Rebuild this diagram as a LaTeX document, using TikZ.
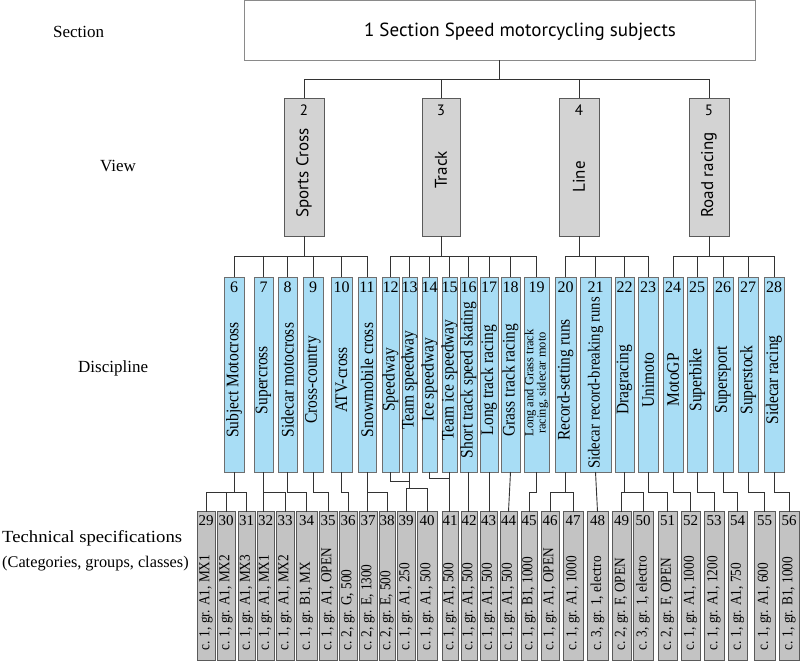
\documentclass[tikz,border=0pt]{standalone}
\usepackage{fontspec}
\setmainfont{Liberation Serif}
\newfontfamily\sansf{PT Sans}
\definecolor{discfill}{HTML}{A8DDF5}
\definecolor{discline}{HTML}{6E6E6E}
\definecolor{viewfill}{HTML}{D3D3D3}
\definecolor{techfill}{HTML}{C3C3C3}
\definecolor{boxline}{HTML}{5A5A5A}
\definecolor{conncol}{HTML}{333333}
\definecolor{topline}{HTML}{8A8A8A}
\tikzset{
  topbox/.style={draw=topline,fill=white,line width=1pt,inner sep=0pt,outer sep=0pt},
  viewbox/.style={draw=boxline,fill=viewfill,line width=1pt,inner sep=0pt,outer sep=0pt,minimum height=138pt},
  discbox/.style={draw=discline,fill=discfill,line width=1pt,inner sep=0pt,outer sep=0pt,minimum height=195pt},
  techbox/.style={draw=boxline,fill=techfill,line width=1pt,inner sep=0pt,outer sep=0pt,minimum height=148.5pt},
  conn/.style={draw=conncol,line width=0.9pt},
  viewnum/.style={inner sep=0pt,font={\sansf\fontsize{15}{17}\selectfont}},
  viewtext/.style={inner sep=0pt,rotate=90,font={\sansf\fontsize{17}{19}\selectfont}},
  discnum/.style={inner sep=0pt,font={\fontsize{16}{18}\selectfont}},
  disctext/.style={inner sep=0pt,rotate=90,font={\fontsize{15.5}{18}\selectfont}},
  technum/.style={inner sep=0pt,font={\fontsize{15}{17}\selectfont}},
  techtext/.style={inner sep=0pt,rotate=90,anchor=west,font={\fontsize{13.3}{15}\selectfont}},
  lefttext/.style={inner sep=0pt,anchor=west,font={\fontsize{17}{19}\selectfont}},
}
\newcommand\tall[1]{\scalebox{1}[1.14]{#1}}
\newcommand\ViewBox[5]{% num x1 x2 label ytext
  \node[viewbox,minimum width={(#3-#2)*1pt}] (v#1) at ({(#2+#3)/2},167) {};
  \node[viewnum] at ({(#2+#3)/2},110) {#1};
  \node[viewtext] at ({(#2+#3)/2},#5) {#4};
}
\newcommand\Disc[4]{% num x1 x2 label
  \node[discbox,minimum width={(#3-#2)*1pt}] (d#1) at ({(#2+#3)/2},374.5) {};
  \node[discnum] at ({(#2+#3)/2},287.5) {#1};
  \node[disctext] at ({(#2+#3)/2},380) {\tall{#4}};
}
\newcommand\Tech[4]{% num x1 x2 label
  \node[techbox,minimum width={(#3-#2)*1pt}] (t#1) at ({(#2+#3)/2},585.75) {};
  \node[technum] at ({(#2+#3)/2},520.5) {#1};
  \node[techtext] at ({(#2+#3)/2},651) {\tall{#4}};
}
\begin{document}
\begin{tikzpicture}[x=1pt,y=-1pt]
\useasboundingbox (0,0) rectangle (800,661);
% top
\node[topbox,minimum width=511pt,minimum height=60pt] (top) at (499.5,30.5) {};
\node[inner sep=0pt,font={\sansf\fontsize{19}{21}\selectfont}] (toptext) at (520,32) {1 Section Speed motorcycling subjects};
% left labels
\node[lefttext] (lsec) at (53,32) {Section};
\node[lefttext] (lview) at (100,166) {View};
\node[lefttext] (ldisc) at (78,368) {Discipline};
\node[lefttext] (ltech) at (2,538) {\scalebox{1.1}[1]{Technical specifications}};
\node[lefttext,font={\fontsize{16.3}{19}\selectfont}] (lcat) at (2,564) {(Categories, groups, classes)};
% view boxes
\ViewBox{2}{284}{324}{Sports Cross}{173}
\ViewBox{3}{422}{460}{Track}{170}
\ViewBox{4}{559}{599}{Line}{177}
\ViewBox{5}{689}{729}{Road racing}{175}
% discipline boxes
\Disc{6}{224}{244}{Subject Motocross}
\Disc{7}{254}{273}{Supercross}
\Disc{8}{278}{297}{Sidecar motocross}
\Disc{9}{303}{323}{Cross-country}
\Disc{10}{331}{352}{ATV-cross}
\Disc{11}{358}{376}{Snowmobile cross}
\Disc{12}{382}{399}{Speedway}
\Disc{13}{402}{417}{Team speedway}
\Disc{14}{422}{437}{Ice speedway}
\Disc{15}{442}{457}{Team ice speedway}
\Disc{16}{460}{477}{Short track speed skating}
\Disc{17}{480}{498}{Long track racing}
\Disc{18}{501}{520}{Grass track racing}
\node[discbox,minimum width=25pt] (d19) at (536.5,374.5) {};
\node[discnum] at (536.5,287.5) {19};
\node[disctext,align=center,font={\fontsize{12.5}{11}\selectfont}] at (536.5,383) {Long and Grass track\\racing, sidecar moto};
\Disc{20}{555}{576}{Record-setting runs}
\node[discbox,minimum width=31pt] (d21) at (595.5,374.5) {};
\node[discnum] at (595.5,287.5) {21};
\node[disctext,font={\fontsize{14.8}{18}\selectfont}] at (595.5,383) {\tall{Sidecar record-breaking runs}};
\Disc{22}{615}{634}{Dragracing}
\Disc{23}{638}{658}{Unimoto}
\Disc{24}{663}{683}{MotoGP}
\Disc{25}{687}{707}{Superbike}
\Disc{26}{713}{733}{Supersport}
\Disc{27}{738}{758}{Superstock}
\Disc{28}{764}{784}{Sidecar racing}
% technical boxes
\Tech{29}{197}{215}{c. 1, gr. A1, MX1}
\Tech{30}{217}{235}{c. 1, gr. A1, MX2}
\Tech{31}{238}{255}{c. 1, gr. A1, MX3}
\Tech{32}{257}{274}{c. 1, gr. A1, MX1}
\Tech{33}{276}{294}{c. 1, gr. A1, MX2}
\Tech{34}{296}{317}{c. 1, gr. B1, MX}
\Tech{35}{319}{337}{c. 1, gr. A1, OPEN}
\Tech{36}{339}{357}{c. 2, gr. G, 500}
\Tech{37}{359}{377}{c. 2, gr. E, 1300}
\Tech{38}{379}{395}{c. 2, gr. E, 500}
\Tech{39}{397}{415}{c. 1, gr. A1, 250}
\Tech{40}{417}{437}{c. 1, gr. A1, 500}
\Tech{41}{442}{458}{c. 1, gr. A1, 500}
\Tech{42}{461}{477}{c. 1, gr. A1, 500}
\Tech{43}{480}{497}{c. 1, gr. A1, 500}
\Tech{44}{500}{517}{c. 1, gr. A1, 500}
\Tech{45}{521}{537}{c. 1, gr. B1, 1000}
\Tech{46}{541}{559}{c. 1, gr. A1, OPEN}
\Tech{47}{563}{583}{c. 1, gr. A1, 1000}
\Tech{48}{587}{608}{c. 3, gr. 1, electro}
\Tech{49}{612}{631}{c. 2, gr. F, OPEN}
\Tech{50}{633}{653}{c. 3, gr. 1, electro}
\Tech{51}{658}{677}{c. 2, gr. F, OPEN}
\Tech{52}{681}{700}{c. 1, gr. A1, 1000}
\Tech{53}{704}{724}{c. 1, gr. A1, 1200}
\Tech{54}{728}{747}{c. 1, gr. A1, 750}
\Tech{55}{754}{775}{c. 1, gr. A1, 600}
\Tech{56}{779}{799}{c. 1, gr. B1, 1000}
% bus levels
\coordinate (bA) at (0,79);
\coordinate (bB) at (0,256);
\coordinate (bC) at (0,492);
\coordinate (bD) at (0,481);
\coordinate (bE) at (0,488);
\coordinate (bF) at (0,478);
% top -> views
\draw[conn] (top.south) -- (top.south |- bA);
\draw[conn] (v2.north) -- (v2.north |- bA) -- (v5.north |- bA) -- (v5.north);
\draw[conn] (v3.north) -- (v3.north |- bA);
\draw[conn] (v4.north) -- (v4.north |- bA);
% views -> disciplines
\draw[conn] (v2.south) -- (v2.south |- bB);
\draw[conn] (d6.north) -- (d6.north |- bB) -- (d11.north |- bB) -- (d11.north);
\foreach \n in {7,8,9,10} \draw[conn] (d\n.north) -- (d\n.north |- bB);
\draw[conn] (v3.south) -- (v3.south |- bB);
\draw[conn] (d12.north) -- (d12.north |- bB) -- (d19.north |- bB) -- (d19.north);
\foreach \n in {13,14,15,16,17,18} \draw[conn] (d\n.north) -- (d\n.north |- bB);
\draw[conn] (v4.south) -- (v4.south |- bB);
\draw[conn] (d20.north) -- (d20.north |- bB) -- (d23.north |- bB) -- (d23.north);
\foreach \n in {21,22} \draw[conn] (d\n.north) -- (d\n.north |- bB);
\draw[conn] (v5.south) -- (v5.south |- bB);
\draw[conn] (d24.north) -- (d24.north |- bB) -- (d28.north |- bB) -- (d28.north);
\foreach \n in {25,26,27} \draw[conn] (d\n.north) -- (d\n.north |- bB);
% disciplines -> technical
\draw[conn] (d6.south) -- (d6.south |- bC);
\draw[conn] (t29.north) -- (t29.north |- bC) -- (t31.north |- bC) -- (t31.north);
\draw[conn] (t30.north) -- (t30.north |- bC);
\draw[conn] (d7.south) -- (d7.south |- t32.north);
\draw[conn] (d7.south |- bC) -- (t33.north |- bC) -- (t33.north);
\draw[conn] (d8.south) -- (d8.south |- bC) -- (t34.north |- bC) -- (t34.north);
\draw[conn] (d9.south) -- (d9.south |- bC) -- (t35.north |- bC) -- (t35.north);
\draw[conn] (d10.south) -- (d10.south |- bC) -- (t36.north |- bC) -- (t36.north);
\draw[conn] (d11.south) -- (d11.south |- t37.north);
\draw[conn] (d11.south |- bC) -- (t38.north |- bC) -- (t38.north);
\draw[conn] (d12.south) -- (d12.south |- bD) -- (d13.south |- bD);
\draw[conn] (d13.south) -- (d13.south |- bE);
\draw[conn] (t39.north) -- (t39.north |- bE) -- (t40.north |- bE) -- (t40.north);
\draw[conn] (d14.south) -- (d14.south |- bF) -- (d15.south |- bF);
\draw[conn] (d15.south) -- (d15.south |- t41.north);
\draw[conn] (d16.south) -- (d16.south |- t42.north);
\draw[conn] (d17.south) -- (d17.south |- t43.north);
\draw[conn] (d18.south) -- (t44.north);
\draw[conn] (d19.south) -- (d19.south |- bC) -- (t45.north |- bC) -- (t45.north);
\draw[conn] (d20.south) -- (d20.south |- bC);
\draw[conn] (t46.north) -- (t46.north |- bC) -- (t47.north |- bC) -- (t47.north);
\draw[conn] (d21.south) -- (t48.north);
\draw[conn] (d22.south) -- (d22.south |- bC);
\draw[conn] (t49.north) -- (t49.north |- bC) -- (t50.north |- bC) -- (t50.north);
\draw[conn] (d23.south) -- (d23.south |- bC) -- (t51.north |- bC) -- (t51.north);
\draw[conn] (d24.south) -- (d24.south |- bC) -- (t52.north |- bC) -- (t52.north);
\draw[conn] (d25.south) -- (d25.south |- bC) -- (t53.north |- bC) -- (t53.north);
\draw[conn] (d26.south) -- (d26.south |- bC) -- (t54.north |- bC) -- (t54.north);
\draw[conn] (d27.south) -- (d27.south |- bC) -- (t55.north |- bC) -- (t55.north);
\draw[conn] (d28.south) -- (d28.south |- bC) -- (t56.north |- bC) -- (t56.north);
\end{tikzpicture}
\end{document}
